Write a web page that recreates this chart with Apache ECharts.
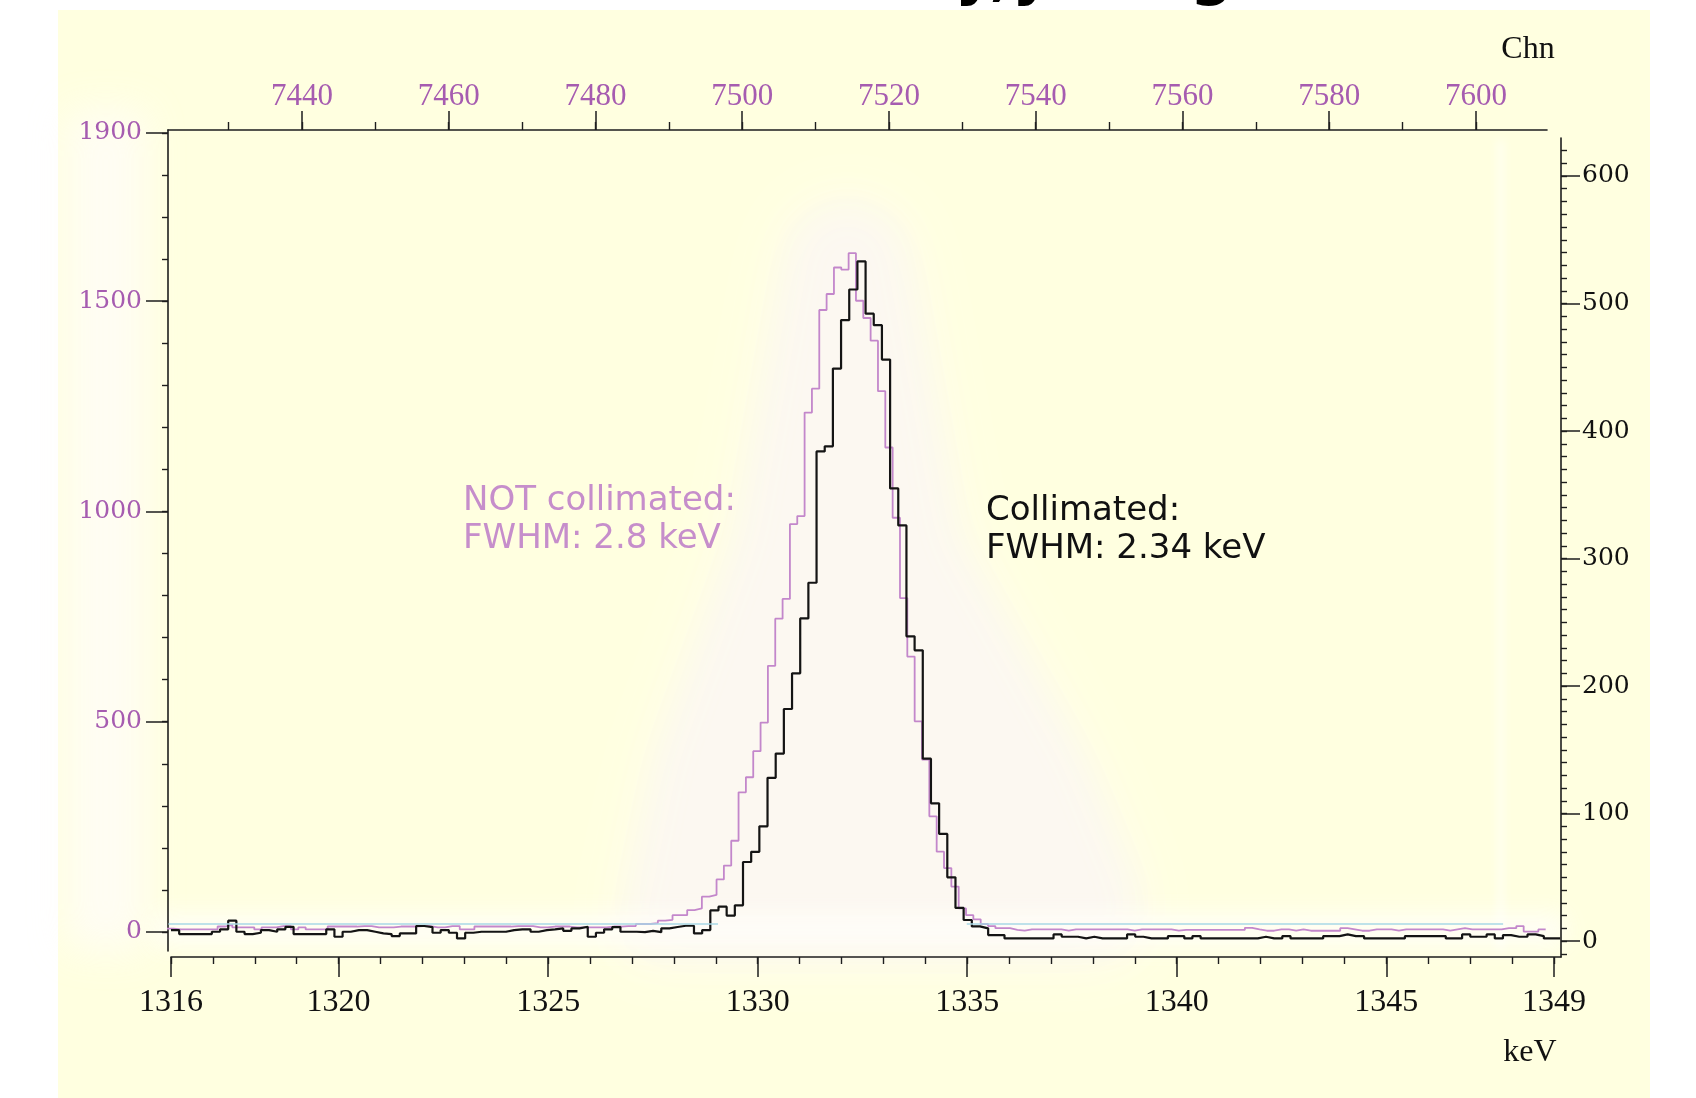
<!DOCTYPE html>
<html><head><meta charset="utf-8">
<script src="https://cdn.jsdelivr.net/npm/echarts@6/dist/echarts.min.js"></script>
<style>html,body{margin:0;padding:0;background:#fff}#c{width:1696px;height:1098px}</style>
</head><body><div id="c"></div>
<script>
// ---- data ----
// Collimated spectrum: bins of keVBinWidth starting at keVStart (bottom keV axis, right counts axis)
const keVStart = 1316.0;
const keVBinWidth = 0.195;
const collimatedCounts = [
  8.6, 5.5, 5.5, 5.5, 5.5, 7.3, 9.2, 16, 7.3, 5.5,
  6.5, 8.6, 7.3, 9.2, 11.2, 5.5, 5.5, 5.5, 5.5, 9.2,
  3.4, 7.3, 8.6, 8.6, 7.3, 6, 5.5, 3.9, 6, 6,
  11.8, 11, 6.5, 8.6, 6.5, 2.1, 6.5, 7.3, 7.3, 7.3,
  7.3, 8.6, 9.2, 9.2, 7.3, 8.6, 9.2, 9.9, 8, 9.9,
  11.2, 3.4, 6.5, 9.2, 11, 7.3, 7.3, 7, 8, 7,
  10, 11, 12, 12, 6, 8.6, 24, 27, 20, 28,
  62, 70, 90, 128, 147, 182, 210, 253, 281, 384,
  388, 449, 487, 511, 533, 492, 483, 456, 355, 326,
  239, 228, 143, 108, 84, 50, 26, 16.5, 11.5, 10,
  4.7, 4.7, 2.1, 2.1, 2.1, 2.1, 2.1, 2.1, 5.2, 3.4,
  3.4, 2.1, 3.4, 2.1, 2.1, 2.1, 2.1, 5.2, 3.4, 2.1,
  2.1, 2.1, 3.9, 3.9, 2.1, 3.9, 2.1, 2.1, 2.1, 2.1,
  2.1, 2.1, 2.1, 3.4, 2.1, 2.1, 3.9, 2.1, 2.1, 2.1,
  2.1, 3.9, 3.9, 5.2, 3.9, 3.9, 2.1, 2.1, 2.1, 2.1,
  2.1, 3.9, 3.9, 3.9, 3.9, 3.9, 2.1, 2.1, 5.2, 3.4,
  3.4, 5.2, 2.1, 4.7, 3.4, 3.4, 5.2, 3.9, 2.1, 2.1
];
// NOT collimated spectrum: one value per channel starting at chnFirst (top Chn axis, left counts axis)
const chnFirst = 7422;
const notCollimatedCounts = [
  8, 6, 6, 6, 6, 6, 6, 13, 17, 11,
  11, 11, 6, 11, 11, 14, 14, 6, 11, 6,
  6, 6, 13, 13, 13, 13, 14, 14, 11, 11,
  11, 13, 13, 13, 14, 14, 11, 11, 14, 14,
  6, 6, 13, 13, 13, 13, 13, 14, 14, 14,
  11, 11, 13, 13, 13, 11, 11, 11, 11, 11,
  13, 13, 14, 14, 19, 19, 21, 27, 29, 40,
  40, 52, 56, 84, 88, 125, 158, 217, 332, 368,
  430, 498, 633, 745, 792, 970, 989, 1235, 1292, 1479,
  1517, 1580, 1575, 1614, 1501, 1460, 1406, 1286, 1152, 985,
  794, 655, 501, 410, 275, 191, 152, 108, 56, 40,
  30, 19, 14, 9, 9, 5, 3, 6, 6, 6,
  6, 6, 3, 6, 6, 6, 6, 6, 6, 6,
  6, 3, 6, 6, 6, 6, 6, 3, 5, 5,
  5, 5, 5, 5, 5, 5, 5, 10, 6, 3,
  3, 6, 6, 3, 6, 3, 3, 3, 3, 3,
  9, 6, 3, 3, 6, 6, 6, 3, 6, 6,
  6, 6, 6, 6, 3, 6, 9, 6, 6, 6,
  6, 6, 9, 9, 14, 1, 1, 6
];
// tick labels
const keVTicks = [1316, 1320, 1325, 1330, 1335, 1340, 1345, 1349];
const chnTicks = [7440, 7460, 7480, 7500, 7520, 7540, 7560, 7580, 7600];
const leftTicks = [0, 500, 1000, 1500, 1900];
const rightTicks = [0, 100, 200, 300, 400, 500, 600];
const cyanLevel = 19;            // faint reference line (left-axis counts)
const cyanSpans = [[7421.8, 7496.7], [7530.6, 7603.7]];

// ---- helpers ----
const range = (a, b, s) => { const r = []; for (let v = a; v <= b + 1e-9; v += s) r.push(+v.toFixed(6)); return r; };
const chnMinor = range(7430, 7600, 10);
const keVMinor = range(1316, 1349, 1);
const leftMinor = range(0, 1900, 100);
const rightMinor = range(-10, 620, 10);

const purpleData = notCollimatedCounts.map((v, i) => [chnFirst + i - 0.5, v]);
purpleData.push([chnFirst + notCollimatedCounts.length - 0.5, notCollimatedCounts[notCollimatedCounts.length - 1]]);
const blackData = collimatedCounts.map((v, i) => [keVStart + i * keVBinWidth, v]);
blackData.push([keVStart + collimatedCounts.length * keVBinWidth, collimatedCounts[collimatedCounts.length - 1]]);

const AX = '#1e1e1e';
const PURPLE_LABEL = '#A65CB0';
const PURPLE_LINE = '#C387CB';
const PURPLE_TEXT = '#C68ECB';
const plain = v => String(v);

function axisBase(extra) {
  return Object.assign({
    type: 'value', splitLine: { show: false },
    axisLine: { show: true, onZero: false, lineStyle: { color: AX, width: 1.6 } },
  }, extra);
}
function minorAxis(extra, ticks, len) {
  return axisBase(Object.assign({
    axisLine: { show: false, onZero: false },
    axisTick: { show: true, customValues: ticks, length: len, lineStyle: { color: AX, width: 1.4 } },
    axisLabel: { show: false }
  }, extra));
}
// soft blurred blob: shape drawn off-canvas, only its blurred shadow is shifted in
const OFF = 4000;
function blob(shapeType, shape, color, blur, z) {
  const s = JSON.parse(JSON.stringify(shape));
  if (shapeType === 'polygon') s.points = s.points.map(p => [p[0] - OFF, p[1]]);
  else s.x = s.x - OFF;
  return { type: shapeType, z: z, shape: s, silent: true,
    style: { fill: color, shadowBlur: blur, shadowColor: color, shadowOffsetX: OFF, shadowOffsetY: 0 } };
}
const glowShape = { points: [[800, 228], [848, 205], [895, 228], [950, 540], [1075, 760], [1135, 905], [1125, 950], [625, 950], [635, 905], [665, 760], [745, 540]] };

const chart = echarts.init(document.getElementById('c'), null, { renderer: 'canvas' });
chart.setOption({
  animation: false,
  backgroundColor: '#ffffff',
  grid: [
    { left: 168, top: 130, width: 1379, height: 821 },
    { left: 171, top: 138, width: 1390, height: 819 }
  ],
  xAxis: [
    axisBase({ gridIndex: 0, position: 'top', min: 7421.74, max: 7609.68,
      axisTick: { customValues: chnTicks, length: 19, lineStyle: { color: AX, width: 1.5 } },
      axisLabel: { customValues: chnTicks, formatter: plain, color: PURPLE_LABEL, fontFamily: 'Liberation Serif', fontSize: 31, margin: 18 } }),
    minorAxis({ gridIndex: 0, position: 'top', min: 7421.74, max: 7609.68 }, chnMinor, 8),
    axisBase({ gridIndex: 1, position: 'bottom', min: 1316, max: 1349.17,
      axisTick: { customValues: keVTicks, length: 20, lineStyle: { color: AX, width: 1.5 } },
      axisLabel: { customValues: keVTicks, formatter: plain, color: '#111', fontFamily: 'Liberation Serif', fontSize: 32, margin: 30 } }),
    minorAxis({ gridIndex: 1, position: 'bottom', min: 1316, max: 1349.17 }, keVMinor, 7)
  ],
  yAxis: [
    axisBase({ gridIndex: 0, position: 'left', min: -45.2, max: 1907,
      axisTick: { customValues: leftTicks, length: 22, lineStyle: { color: AX, width: 1.5 } },
      axisLabel: { customValues: leftTicks, formatter: plain, color: PURPLE_LABEL, fontFamily: 'DejaVu Serif', fontSize: 25, margin: 26 } }),
    minorAxis({ gridIndex: 0, position: 'left', min: -45.2, max: 1907 }, leftMinor, 6),
    axisBase({ gridIndex: 1, position: 'right', min: -12.5, max: 629.8,
      axisTick: { customValues: rightTicks, length: 19, lineStyle: { color: AX, width: 1.5 } },
      axisLabel: { customValues: rightTicks, formatter: plain, color: '#111', fontFamily: 'DejaVu Serif', fontSize: 25, margin: 21 } }),
    minorAxis({ gridIndex: 1, position: 'right', min: -12.5, max: 629.8 }, rightMinor, 6)
  ],
  series: [
    { type: 'line', name: 'NOT collimated', xAxisIndex: 0, yAxisIndex: 0, step: 'end',
      symbol: 'none', data: purpleData, z: 3,
      lineStyle: { color: PURPLE_LINE, width: 1.8 },
      markLine: { silent: true, symbol: 'none', label: { show: false },
        lineStyle: { color: '#A9D9E6', width: 1.5, type: 'solid' },
        data: cyanSpans.map(s => [{ coord: [s[0], cyanLevel] }, { coord: [s[1], cyanLevel] }]) } },
    { type: 'line', name: 'Collimated', xAxisIndex: 2, yAxisIndex: 2, step: 'end',
      symbol: 'none', data: blackData, z: 4,
      lineStyle: { color: '#141414', width: 2.2 } }
  ],
  graphic: [
    { type: 'rect', z: -20, silent: true, shape: { x: 58, y: 10, width: 1592, height: 1088 }, style: { fill: '#FFFFE0' } },
    blob('rect', { x: 66, y: 110, width: 80, height: 840 }, 'rgba(255,252,247,0.9)', 40, -19),
    blob('polygon', glowShape, '#FCF8F1', 70, -18),
    blob('polygon', glowShape, '#FCF8F1', 40, -18),
    blob('rect', { x: 155, y: 915, width: 1410, height: 30 }, 'rgba(255,254,250,0.95)', 24, -17),
    blob('rect', { x: 1498, y: 140, width: 5, height: 810 }, 'rgba(255,255,255,0.9)', 10, -17),
    // cut-off title glyphs at the very top
    { type: 'text', z: 10, x: 955, y: 7, style: { text: 'y,y', font: 'bold 60px "DejaVu Sans"', fill: '#000', align: 'left', verticalAlign: 'bottom' } },
    { type: 'text', z: 10, x: 1190, y: 7, style: { text: 'g', font: 'bold 60px "DejaVu Sans"', fill: '#000', align: 'left', verticalAlign: 'bottom' } },
    // axis unit names
    { type: 'text', z: 10, x: 1528, y: 50, style: { text: 'Chn', font: '32px "Liberation Serif"', fill: '#111', align: 'center', verticalAlign: 'middle' } },
    { type: 'text', z: 10, x: 1530, y: 1053, style: { text: 'keV', font: '32px "Liberation Serif"', fill: '#111', align: 'center', verticalAlign: 'middle' } },
    // annotations
    { type: 'text', z: 10, x: 463, y: 482, style: { text: 'NOT collimated:\nFWHM: 2.8 keV', font: '34px "DejaVu Sans"', lineHeight: 38, fill: PURPLE_TEXT, align: 'left', verticalAlign: 'top' } },
    { type: 'text', z: 10, x: 986, y: 492, style: { text: 'Collimated:\nFWHM: 2.34 keV', font: '34px "DejaVu Sans"', lineHeight: 38, fill: '#111', align: 'left', verticalAlign: 'top' } }
  ]
});
</script>
</body></html>
